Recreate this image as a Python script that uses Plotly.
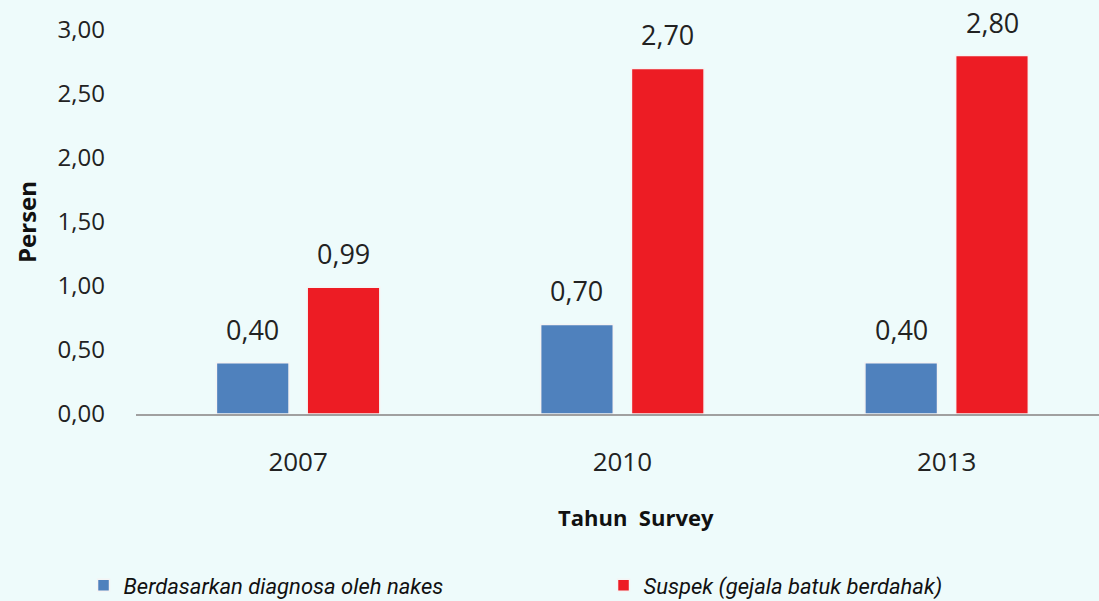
import plotly.graph_objects as go

# data
years = ["2007", "2010", "2013"]
diagnosa = [0.40, 0.70, 0.40]
suspek = [0.99, 2.70, 2.80]
series_names = ["Berdasarkan diagnosa oleh nakes", "Suspek (gejala batuk berdahak)"]
series_colors = ["#4F81BD", "#ED1C24"]
y_ticks = [0, 0.5, 1.0, 1.5, 2.0, 2.5, 3.0]

BG = "#EEFBFB"
FONT = "Open Sans"


def fmt(v):
    # decimal comma, two places
    return ("%.2f" % v).replace(".", ",")


fig = go.Figure()
legend_ids = ["legend", "legend2"]
for name, vals, col, lg in zip(series_names, [diagnosa, suspek], series_colors, legend_ids):
    fig.add_trace(go.Bar(
        x=years, y=vals, name=name, legend=lg,
        marker=dict(color=col, line=dict(color="#F4F4F4", width=1.5)),
        textposition="none",
    ))

# value labels above bars
offsets = [-0.14, 0.14]
for k, vals in enumerate([diagnosa, suspek]):
    for i, v in enumerate(vals):
        fig.add_annotation(
            x=i + offsets[k], y=v, xref="x", yref="y",
            text=fmt(v), showarrow=False, yanchor="bottom", yshift=13,
            font=dict(family=FONT, size=27, color="#222222"),
        )

# x axis title (sits a little right of centre in the original)
fig.add_annotation(
    x=0.519, y=-(517 - 414) / 384.0, xref="paper", yref="paper",
    yanchor="middle", text="<b>Tahun  Survey</b>",
    showarrow=False, font=dict(family=FONT, size=22, color="#111111"),
)

leg_style = dict(
    orientation="h", xref="container", yref="container",
    y=0.026, xanchor="left", yanchor="middle", itemwidth=30,
    font=dict(family="Roboto", size=22, color="#111111", style="italic"),
    bgcolor="rgba(0,0,0,0)",
)

fig.update_layout(
    width=1099, height=601,
    paper_bgcolor=BG, plot_bgcolor=BG,
    margin=dict(l=136, r=0, t=30, b=187),
    barmode="group", bargap=0.44, bargroupgap=0.2,
    font=dict(family=FONT, color="#222222"),
    showlegend=True,
    legend=dict(x=0.076, **leg_style),
    legend2=dict(x=0.076 + 520 / 1099, **leg_style),
)

fig.update_xaxes(
    range=[-0.5, 2.47], automargin=False,
    showline=True, linecolor="#A0A0A0", linewidth=2,
    ticks="", ticklabelstandoff=24,
    tickfont=dict(family=FONT, size=26, color="#222222"),
)
fig.update_yaxes(
    range=[0, 3.0], showgrid=False, zeroline=False, showline=False,
    tickvals=y_ticks, ticktext=[fmt(v) for v in y_ticks],
    ticks="", ticklabelstandoff=30,
    tickfont=dict(family=FONT, size=24, color="#222222"),
    title=dict(text="<b>Persen</b>", standoff=14,
               font=dict(family=FONT, size=24, color="#111111")),
)

fig.write_html("out.html", config={"displayModeBar": False},
               post_script="document.body.style.margin='0';")
